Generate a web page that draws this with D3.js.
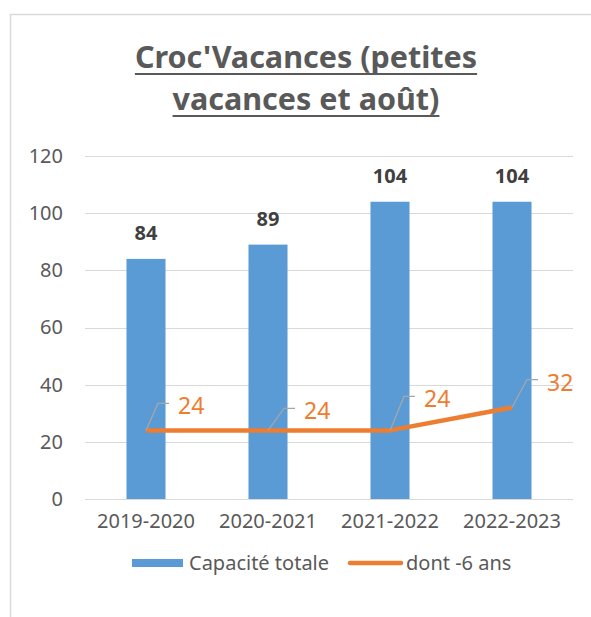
<!DOCTYPE html>
<html>
<head>
<meta charset="utf-8">
<script src="https://cdn.jsdelivr.net/npm/d3@7"></script>
<style>
  body { margin: 0; background: #ffffff; }
  text { font-family: "Noto Sans", "Open Sans", sans-serif; }
</style>
</head>
<body>
<div id="chart"></div>
<script>
/////////////////////////////////////////////////////////////
///////////////////// Data //////////////////////////////////
/////////////////////////////////////////////////////////////

var years = ["2019-2020", "2020-2021", "2021-2022", "2022-2023"];
var capaciteTotale = [84, 89, 104, 104];
var dontMoins6 = [24, 24, 24, 32];
var yTicks = [0, 20, 40, 60, 80, 100, 120];
var titleLines = ["Croc'Vacances (petites", "vacances et août)"];
var seriesNames = ["Capacité totale", "dont -6 ans"];

// label offsets (dx, dy of label from its point), set by hand like in Excel
var labelDx = [32, 36, 34, 35];
var labelDy = [-24, -19, -31, -25];

/////////////////////////////////////////////////////////////
///////////////////// Drawing ///////////////////////////////
/////////////////////////////////////////////////////////////

var W = 591, H = 617;
var blue = "#5B9BD5", orange = "#ED7D31", grey = "#595959";

var svg = d3.select("#chart")
  .append("svg")
  .attr("width", W)
  .attr("height", H);

// chart area border (cut at the right and bottom)
svg.append("rect")
  .attr("x", 10.5).attr("y", 14.5)
  .attr("width", 700).attr("height", 700)
  .attr("fill", "none")
  .attr("stroke", "#D9D9D9")
  .attr("stroke-width", 1.5);

// Title, two lines, underlined (underline drawn by hand so it does not break at descenders)
var titles = svg.selectAll(".title")
  .data(titleLines).enter().append("text")
  .attr("class", "title")
  .attr("x", 306)
  .attr("y", (d, i) => 68 + i * 42)
  .attr("text-anchor", "middle")
  .style("font-size", "30.5px")
  .style("font-weight", "bold")
  .attr("fill", grey)
  .text(d => d);

titles.each(function (d, i) {
  var w = this.getComputedTextLength();
  svg.append("line")
    .attr("x1", 306 - w / 2).attr("x2", 306 + w / 2)
    .attr("y1", 68 + i * 42 + 6).attr("y2", 68 + i * 42 + 6)
    .attr("stroke", grey)
    .attr("stroke-width", 2);
});

// scales
var x = d3.scaleBand()
  .domain(years)
  .range([85, 573])
  .paddingInner(0.68)
  .paddingOuter(0.34);

var y = d3.scaleLinear()
  .domain([0, 120])
  .range([499, 156]);

// gridlines
svg.selectAll(".grid")
  .data(yTicks).enter().append("line")
  .attr("x1", 85).attr("x2", 573)
  .attr("y1", d => Math.round(y(d)) + 0.5)
  .attr("y2", d => Math.round(y(d)) + 0.5)
  .attr("stroke", "#D9D9D9")
  .attr("stroke-width", 1);

// y axis labels
var yAxis = d3.axisLeft(y).tickValues(yTicks).tickSize(0).tickPadding(0);
svg.append("g")
  .attr("transform", "translate(63,0)")
  .call(yAxis)
  .call(g => g.select(".domain").remove())
  .selectAll("text")
  .style("font-size", "20px")
  .style("font-family", "Noto Sans")
  .attr("fill", grey);

// x axis labels
var xAxis = d3.axisBottom(x).tickSize(0).tickPadding(0);
svg.append("g")
  .attr("transform", "translate(0,514)")
  .call(xAxis)
  .call(g => g.select(".domain").remove())
  .selectAll("text")
  .style("font-size", "20px")
  .style("font-family", "Noto Sans")
  .attr("fill", grey);

// bars
svg.selectAll(".bar")
  .data(capaciteTotale).enter().append("rect")
  .attr("class", "bar")
  .attr("x", (d, i) => x(years[i]))
  .attr("width", x.bandwidth())
  .attr("y", d => y(d))
  .attr("height", d => y(0) - y(d))
  .attr("fill", blue);

// bar value labels
svg.selectAll(".barLabel")
  .data(capaciteTotale).enter().append("text")
  .attr("x", (d, i) => x(years[i]) + x.bandwidth() / 2)
  .attr("y", d => y(d) - 19)
  .attr("text-anchor", "middle")
  .style("font-size", "20px")
  .style("font-weight", "bold")
  .attr("fill", "#404040")
  .text(d => d);

// line
var cx = (d, i) => x(years[i]) + x.bandwidth() / 2;
var line = d3.line()
  .x(cx)
  .y(d => y(d));

svg.append("path")
  .datum(dontMoins6)
  .attr("d", line)
  .attr("fill", "none")
  .attr("stroke", orange)
  .attr("stroke-width", 4.5)
  .attr("stroke-linejoin", "round");

// leader lines for the line labels
svg.selectAll(".leader")
  .data(dontMoins6).enter().append("polyline")
  .attr("points", function (d, i) {
    var px = cx(d, i), py = y(d);
    var lx = px + labelDx[i], ly = py + labelDy[i] - 3;
    return [[px, py], [lx - 20, ly], [lx - 9, ly]].join(" ");
  })
  .attr("fill", "none")
  .attr("stroke", "#A6A6A6")
  .attr("stroke-width", 1.3);

// line labels
svg.selectAll(".lineLabel")
  .data(dontMoins6).enter().append("text")
  .attr("x", (d, i) => cx(d, i) + labelDx[i])
  .attr("y", (d, i) => y(d) + labelDy[i])
  .attr("dy", "0.35em")
  .style("font-size", "23px")
  .attr("fill", orange)
  .text(d => d);

/////////////////////////////////////////////////////////////
///////////////////// Legend ////////////////////////////////
/////////////////////////////////////////////////////////////

svg.append("rect")
  .attr("x", 132).attr("y", 559)
  .attr("width", 51).attr("height", 8)
  .attr("fill", blue);

svg.append("text")
  .attr("x", 189).attr("y", 563)
  .attr("dy", "0.35em")
  .style("font-size", "20px")
  .attr("fill", grey)
  .text(seriesNames[0]);

svg.append("line")
  .attr("x1", 350).attr("x2", 401)
  .attr("y1", 563).attr("y2", 563)
  .attr("stroke", orange)
  .attr("stroke-width", 4.5)
  .attr("stroke-linecap", "round");

svg.append("text")
  .attr("x", 406).attr("y", 563)
  .attr("dy", "0.35em")
  .style("font-size", "20px")
  .attr("fill", grey)
  .text(seriesNames[1]);
</script>
</body>
</html>
